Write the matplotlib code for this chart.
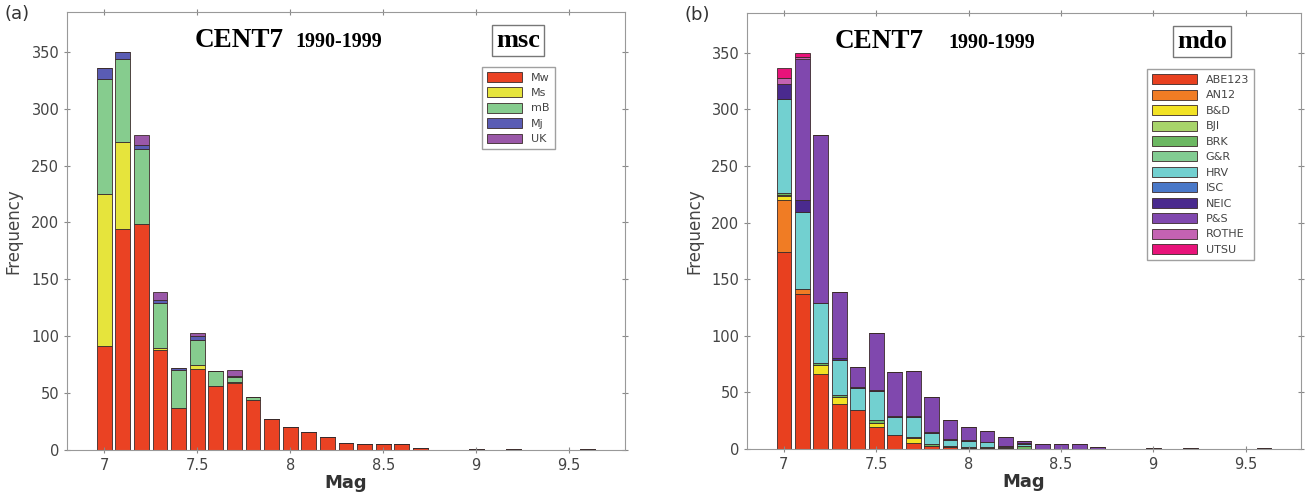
import matplotlib.pyplot as plt
import numpy as np

# magnitude bins 7.0 .. 9.6
mag = [7.0, 7.1, 7.2, 7.3, 7.4, 7.5, 7.6, 7.7, 7.8, 7.9, 8.0, 8.1, 8.2, 8.3,
       8.4, 8.5, 8.6, 8.7, 8.8, 8.9, 9.0, 9.1, 9.2, 9.3, 9.4, 9.5, 9.6]

# (a) msc
msc_labels = ['Mw', 'Ms', 'mB', 'Mj', 'UK']
msc_colors = ['#ea4223', '#e6e43c', '#86cc8e', '#5a5cb4', '#9a58a8']
Mw = [91, 194, 199, 88, 37, 71, 56, 59, 44, 27, 20, 16, 11, 6, 5, 5, 5, 2, 0, 0, 1, 0, 1, 0, 0, 0, 1]
Ms = [134, 77, 0, 2, 0, 4, 0, 1, 0, 0, 0, 0, 0, 0, 0, 0, 0, 0, 0, 0, 0, 0, 0, 0, 0, 0, 0]
mB = [101, 73, 66, 39, 33, 22, 13, 4, 3, 0, 0, 0, 0, 0, 0, 0, 0, 0, 0, 0, 0, 0, 0, 0, 0, 0, 0]
Mj = [10, 6, 3, 3, 2, 3, 0, 1, 0, 0, 0, 0, 0, 0, 0, 0, 0, 0, 0, 0, 0, 0, 0, 0, 0, 0, 0]
UK = [0, 0, 9, 7, 0, 3, 0, 5, 0, 0, 0, 0, 0, 0, 0, 0, 0, 0, 0, 0, 0, 0, 0, 0, 0, 0, 0]

# (b) mdo
mdo_labels = ['ABE123', 'AN12', 'B&D', 'BJI', 'BRK', 'G&R', 'HRV', 'ISC',
              'NEIC', 'P&S', 'ROTHE', 'UTSU']
mdo_colors = ['#e8401f', '#f07c24', '#f2e224', '#a8d46a', '#6cb862', '#82cc92',
              '#72d0d0', '#4a78c8', '#4a2a8e', '#8048ae', '#c462b2', '#e8137a']
ABE123 = [174, 137, 66, 40, 34, 19, 12, 5, 3, 2, 1, 1, 1, 0, 0, 0, 0, 0, 0, 0, 0, 0, 0, 0, 0, 0, 0]
AN12 = [46, 4, 0, 0, 0, 0, 0, 0, 0, 0, 0, 0, 0, 0, 0, 0, 0, 0, 0, 0, 0, 0, 0, 0, 0, 0, 0]
BD = [3, 0, 8, 6, 0, 4, 0, 5, 0, 0, 0, 0, 0, 0, 0, 0, 0, 0, 0, 0, 0, 0, 0, 0, 0, 0, 0]
BJI = [1, 0, 0, 0, 0, 0, 0, 0, 0, 0, 0, 0, 0, 0, 0, 0, 0, 0, 0, 0, 0, 0, 0, 0, 0, 0, 0]
BRK = [2, 0, 2, 2, 0, 3, 0, 1, 1, 1, 1, 1, 1, 3, 0, 0, 0, 0, 0, 0, 0, 0, 0, 0, 0, 0, 0]
GR = [0, 0, 0, 0, 0, 0, 0, 0, 0, 0, 0, 0, 0, 0, 0, 0, 0, 0, 0, 0, 0, 0, 0, 0, 0, 0, 0]
HRV = [83, 68, 53, 31, 20, 25, 16, 17, 10, 5, 5, 4, 1, 1, 0, 0, 0, 0, 0, 0, 0, 0, 0, 0, 0, 0, 0]
ISC = [0, 0, 0, 0, 0, 0, 0, 0, 0, 0, 0, 0, 0, 0, 0, 0, 0, 0, 0, 0, 0, 0, 0, 0, 0, 0, 0]
NEIC = [13, 11, 0, 1, 1, 1, 1, 1, 1, 1, 1, 0, 0, 1, 0, 0, 0, 0, 0, 0, 0, 0, 0, 0, 0, 0, 0]
PS = [0, 124, 148, 59, 17, 50, 39, 40, 31, 17, 11, 10, 8, 2, 4, 4, 4, 2, 0, 0, 1, 0, 1, 0, 0, 0, 1]
ROTHE = [6, 2, 0, 0, 0, 0, 0, 0, 0, 0, 0, 0, 0, 0, 0, 0, 0, 0, 0, 0, 0, 0, 0, 0, 0, 0, 0]
UTSU = [8, 4, 0, 0, 0, 0, 0, 0, 0, 0, 0, 0, 0, 0, 0, 0, 0, 0, 0, 0, 0, 0, 0, 0, 0, 0, 0]

fig = plt.figure(figsize=(13.08, 4.98), dpi=100)
ax1 = fig.add_axes([0.0512, 0.0964, 0.4266, 0.8795])
ax2 = fig.add_axes([0.5711, 0.0984, 0.4235, 0.8755])


def stack(ax, series, labels, colors):
    bottom = np.zeros(len(mag))
    for vals, lab, col in zip(series, labels, colors):
        vals = np.array(vals, dtype=float)
        ax.bar(mag, vals, width=0.08, bottom=bottom, color=col, label=lab,
               edgecolor='#3a2a2a', linewidth=0.6)
        bottom += vals


def style(ax, tag, box, boxx, legx, legy, hlen):
    ax.set_xlim(6.8, 9.8)
    ax.set_ylim(0, 385)
    ax.set_xticks([7, 7.5, 8, 8.5, 9, 9.5])
    ax.set_xticklabels(['7', '7.5', '8', '8.5', '9', '9.5'])
    ax.set_yticks(range(0, 351, 50))
    ax.tick_params(direction='inout', length=4, labelsize=10.5, colors='#888',
                   labelcolor='#444', top=True, right=True, labelright=False)
    for s in ax.spines.values():
        s.set_color('#999')
    ax.set_xlabel('Mag', fontsize=13, fontweight='bold', color='#333', labelpad=1)
    ax.set_ylabel('Frequency', fontsize=12, color='#444', labelpad=6)
    ax.text(-0.112, 0.995, tag, transform=ax.transAxes, fontsize=13, color='#333',
            va='center')
    ax.text(boxx, 0.935, box, transform=ax.transAxes, fontsize=19,
            family='Liberation Serif', fontweight='bold', ha='center', va='center',
            bbox=dict(boxstyle='square,pad=0.15', fc='white', ec='#777', lw=1))
    leg = ax.legend(loc='upper left', bbox_to_anchor=(legx, legy), fontsize=8,
                    frameon=True, fancybox=False, edgecolor='#888',
                    handlelength=hlen, handleheight=1.0, labelspacing=0.42,
                    borderpad=0.45, handletextpad=0.8, borderaxespad=0)
    for t in leg.get_texts():
        t.set_color('#444')


stack(ax1, [Mw, Ms, mB, Mj, UK], msc_labels, msc_colors)
style(ax1, '(a)', 'msc', 0.808, 0.743, 0.875, 3.2)
ax1.text(0.229, 0.935, 'CENT7', transform=ax1.transAxes, fontsize=19.5,
         family='Liberation Serif', fontweight='bold', va='center')
ax1.text(0.410, 0.932, '1990-1999', transform=ax1.transAxes, fontsize=14.5,
         family='Liberation Serif', fontweight='bold', va='center')

stack(ax2, [ABE123, AN12, BD, BJI, BRK, GR, HRV, ISC, NEIC, PS, ROTHE, UTSU],
      mdo_labels, mdo_colors)
style(ax2, '(b)', 'mdo', 0.822, 0.723, 0.871, 4.0)
ax2.text(0.159, 0.935, 'CENT7', transform=ax2.transAxes, fontsize=19.5,
         family='Liberation Serif', fontweight='bold', va='center')
ax2.text(0.363, 0.932, '1990-1999', transform=ax2.transAxes, fontsize=14.5,
         family='Liberation Serif', fontweight='bold', va='center')

fig.savefig('out.png', dpi=100)
